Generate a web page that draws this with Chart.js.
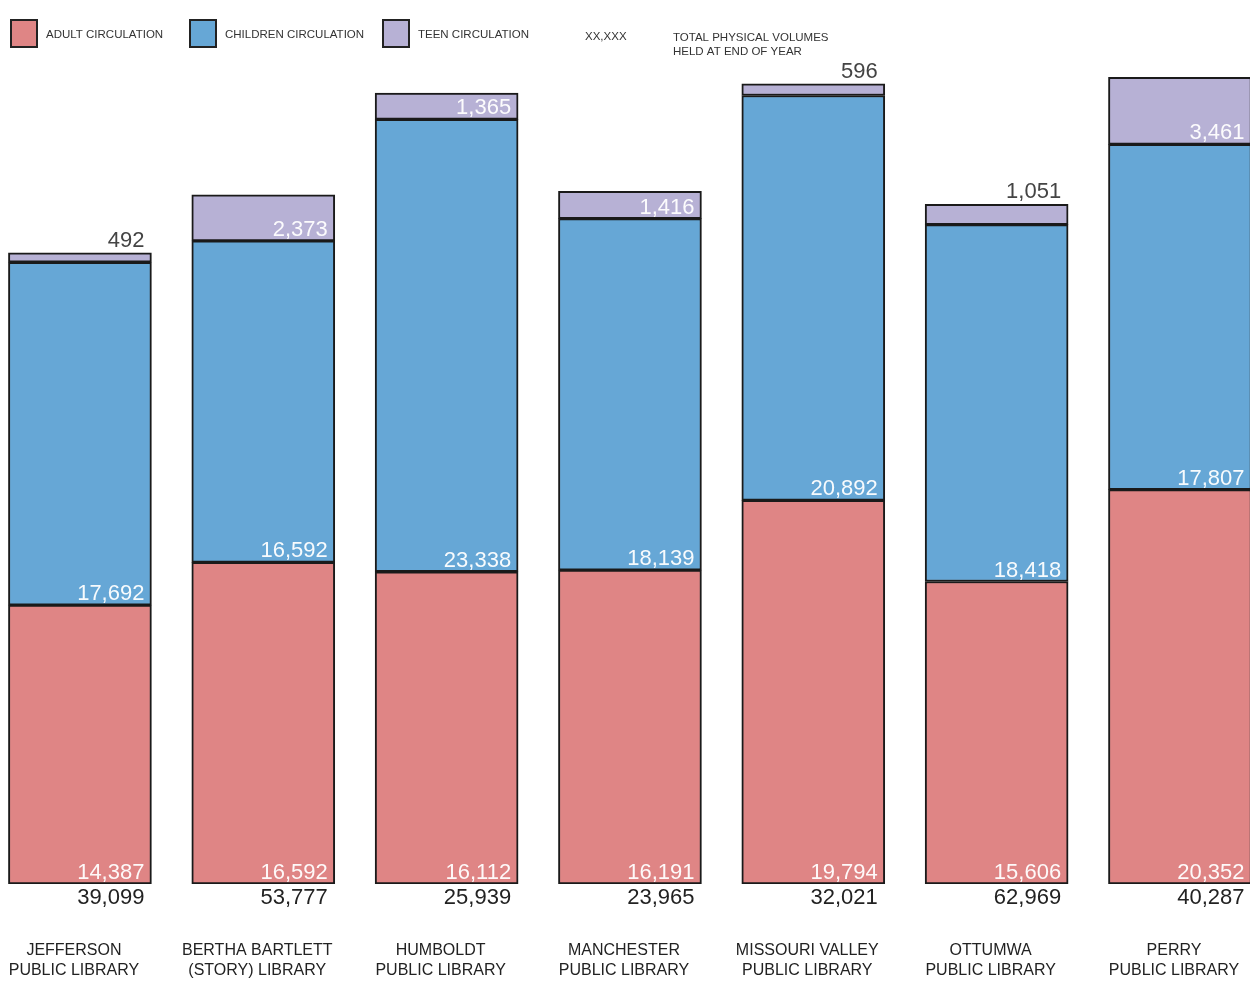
<!DOCTYPE html>
<html>
<head>
<meta charset="utf-8">
<script src="https://cdn.jsdelivr.net/npm/chart.js@4/dist/chart.umd.min.js"></script>
<style>
  body { margin: 0; background: #fff; }
  #wrap { width: 1250px; height: 983px; position: relative; }
</style>
</head>
<body>
<div id="wrap"><canvas id="libChart"></canvas></div>
<script>
// library names (two lines each)
const libraries = [
    ["JEFFERSON", "PUBLIC LIBRARY"],
    ["BERTHA BARTLETT", "(STORY) LIBRARY"],
    ["HUMBOLDT", "PUBLIC LIBRARY"],
    ["MANCHESTER", "PUBLIC LIBRARY"],
    ["MISSOURI VALLEY", "PUBLIC LIBRARY"],
    ["OTTUMWA", "PUBLIC LIBRARY"],
    ["PERRY", "PUBLIC LIBRARY"]
];

const adultCirculation = [14387, 16592, 16112, 16191, 19794, 15606, 20352];
const childrenCirculation = [17692, 16592, 23338, 18139, 20892, 18418, 17807];
const teenCirculation = [492, 2373, 1365, 1416, 596, 1051, 3461];
const totalVolumes = [39099, 53777, 25939, 23965, 32021, 62969, 40287];

const FONT = "'Liberation Sans', Arial, sans-serif";
const fmt = v => v.toLocaleString('en-US');

function toPoints(arr) {
    return arr.map((v, i) => ({ x: i, y: v }));
}

// legend, segment values, totals and library names
const labelsPlugin = {
    id: 'labelsPlugin',
    afterDatasetsDraw(chart) {
        const ctx = chart.ctx;
        ctx.save();

        // values inside the segments
        ctx.font = '22px ' + FONT;
        ctx.textAlign = 'right';
        ctx.textBaseline = 'alphabetic';
        chart.data.datasets.forEach((ds, di) => {
            const meta = chart.getDatasetMeta(di);
            meta.data.forEach((bar, i) => {
                const right = bar.x + bar.width / 2 - 7;
                const h = bar.base - bar.y;
                if (h >= 26) {
                    ctx.fillStyle = 'rgba(255,255,255,0.95)';
                    ctx.fillText(fmt(ds.raw[i]), right, bar.base - 5);
                } else {
                    // too thin: put the number just above the bar
                    ctx.fillStyle = '#444';
                    ctx.fillText(fmt(ds.raw[i]), right, bar.y - 6);
                }
            });
        });

        // totals and names under the bars
        const bottom = chart.chartArea.bottom;
        const meta0 = chart.getDatasetMeta(0);
        meta0.data.forEach((bar, i) => {
            ctx.fillStyle = '#222';
            ctx.font = '22px ' + FONT;
            ctx.textAlign = 'right';
            ctx.textBaseline = 'top';
            ctx.fillText(fmt(totalVolumes[i]), bar.x + bar.width / 2 - 7, bottom + 3);

            ctx.font = '16px ' + FONT;
            ctx.textAlign = 'center';
            ctx.textBaseline = 'middle';
            ctx.fillText(libraries[i][0], bar.x - 6, bottom + 67);
            ctx.fillText(libraries[i][1], bar.x - 6, bottom + 87);
        });

        // legend
        const items = chart.data.datasets.map((ds, i) => ({
            text: ds.label, color: ds.backgroundColor, x: [11, 190, 383][i]
        }));
        ctx.font = '11.5px ' + FONT;
        ctx.textAlign = 'left';
        ctx.textBaseline = 'middle';
        items.forEach(it => {
            ctx.fillStyle = it.color;
            ctx.fillRect(it.x, 20, 26, 27);
            ctx.lineWidth = 2;
            ctx.strokeStyle = '#222';
            ctx.strokeRect(it.x, 20, 26, 27);
            ctx.fillStyle = '#333';
            ctx.fillText(it.text, it.x + 35, 35);
        });
        ctx.fillText('XX,XXX', 585, 37);
        ctx.fillText('TOTAL PHYSICAL VOLUMES', 673, 38);
        ctx.fillText('HELD AT END OF YEAR', 673, 52);

        ctx.restore();
    }
};

const commonBar = {
    borderColor: '#1a1a1a',
    borderWidth: 2,
    borderSkipped: false,
    barThickness: 143
};

new Chart(document.getElementById('libChart').getContext('2d'), {
    type: 'bar',
    data: {
        datasets: [
            Object.assign({ label: 'ADULT CIRCULATION', data: toPoints(adultCirculation), raw: adultCirculation, backgroundColor: '#df8585' }, commonBar),
            Object.assign({ label: 'CHILDREN CIRCULATION', data: toPoints(childrenCirculation), raw: childrenCirculation, backgroundColor: '#66a7d6' }, commonBar),
            Object.assign({ label: 'TEEN CIRCULATION', data: toPoints(teenCirculation), raw: teenCirculation, backgroundColor: '#b7b1d5' }, commonBar)
        ]
    },
    options: {
        responsive: true,
        maintainAspectRatio: false,
        animation: false,
        layout: { padding: { top: 70, bottom: 99, left: 0, right: 0 } },
        plugins: {
            legend: { display: false },
            tooltip: { enabled: false }
        },
        scales: {
            x: { type: 'linear', stacked: true, offset: false, min: -0.436, max: 6.382, display: false },
            y: { stacked: true, min: 0, max: 42000, display: false }
        }
    },
    plugins: [labelsPlugin]
});
</script>
</body>
</html>
